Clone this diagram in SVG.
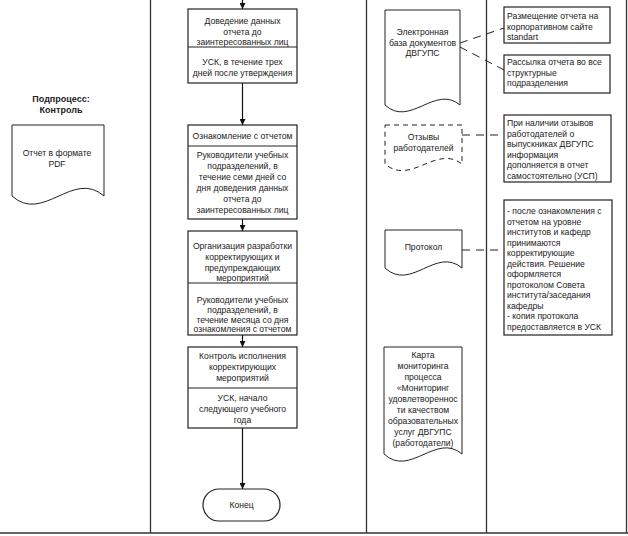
<svg xmlns="http://www.w3.org/2000/svg" width="628" height="536" viewBox="0 0 628 536">
<style>
text{font-family:"Liberation Sans",Arial,sans-serif;font-size:8.6px;fill:#222}
.c{text-anchor:middle}
.b{font-weight:bold;font-size:9px}
.box{fill:#fff;stroke:#222;stroke-width:1.2}
.lane{stroke:#333;stroke-width:1.3;fill:none}
.flow{stroke:#111;stroke-width:1.2;fill:none;marker-end:url(#ah)}
.dash{stroke:#222;stroke-width:1;fill:none;stroke-dasharray:8 6}
.doc{fill:#fff;stroke:#222;stroke-width:1}
</style>
<defs>
<marker id="ah" viewBox="0 0 10 10" refX="10" refY="5" markerWidth="6" markerHeight="6" orient="auto" markerUnits="userSpaceOnUse">
<path d="M0,0 L10,5 L0,10 z" fill="#111"/>
</marker>
</defs>
<g id="lanes">
<line class="lane" x1="150.5" y1="0" x2="150.5" y2="533"/>
<line class="lane" x1="366.5" y1="0" x2="366.5" y2="533"/>
<line class="lane" x1="486.5" y1="0" x2="486.5" y2="533"/>
<line class="lane" x1="626.5" y1="0" x2="626.5" y2="533"/>
<line class="lane" x1="0" y1="533" x2="628" y2="533"/>
</g>
<g id="connectors">
<line class="flow" x1="242.5" y1="0" x2="242.5" y2="9"/>
<line class="flow" x1="242.5" y1="83" x2="242.5" y2="125"/>
<line class="flow" x1="242.5" y1="219" x2="242.5" y2="231"/>
<line class="flow" x1="242.5" y1="335" x2="242.5" y2="347"/>
<line class="flow" x1="242.5" y1="428" x2="242.5" y2="489"/>
<line class="dash" x1="460" y1="43" x2="504" y2="28"/>
<line class="dash" x1="460" y1="47" x2="504" y2="70"/>
<line class="dash" x1="462" y1="135" x2="504" y2="135"/>
<line class="dash" x1="462" y1="250" x2="504" y2="250"/>
</g>
<g id="title">
<text class="c b" x="61" y="102">Подпроцесс:</text>
<text class="c b" x="61" y="113">Контроль</text>
</g>
<g id="doc-pdf">
<path class="doc" d="M12,125 H104 V196 C73,169 43,224 12,196 Z"/>
<text class="c" x="57" y="156">Отчет в формате</text>
<text class="c" x="57" y="167">PDF</text>
</g>
<g id="n1">
<rect class="box" x="188" y="9" width="109" height="74"/>
<line class="box" x1="188" y1="47" x2="297" y2="47"/>
<text class="c" x="242.5" y="24">Доведение данных</text>
<text class="c" x="242.5" y="34.5">отчета до</text>
<text class="c" x="242.5" y="45">заинтересованных лиц</text>
<text class="c" x="242.5" y="65">УСК, в течение трех</text>
<text class="c" x="242.5" y="75.5">дней после утверждения</text>
</g>
<g id="n2">
<rect class="box" x="188" y="125" width="109" height="94"/>
<line class="box" x1="188" y1="146" x2="297" y2="146"/>
<text class="c" x="242.5" y="138.5">Ознакомление с отчетом</text>
<text class="c" x="242.5" y="158">Руководители учебных</text>
<text class="c" x="242.5" y="169">подразделений, в</text>
<text class="c" x="242.5" y="180">течение семи дней со</text>
<text class="c" x="242.5" y="191">дня доведения данных</text>
<text class="c" x="242.5" y="202">отчета до</text>
<text class="c" x="242.5" y="213">заинтересованных лиц</text>
</g>
<g id="n3">
<rect class="box" x="188" y="231" width="109" height="104"/>
<line class="box" x1="188" y1="283" x2="297" y2="283"/>
<text class="c" x="242.5" y="249">Организация разработки</text>
<text class="c" x="242.5" y="260">корректирующих и</text>
<text class="c" x="242.5" y="270.5">предупреждающих</text>
<text class="c" x="242.5" y="281">мероприятий</text>
<text class="c" x="242.5" y="302.5">Руководители учебных</text>
<text class="c" x="242.5" y="313">подразделений, в</text>
<text class="c" x="242.5" y="323">течение месяца со дня</text>
<text class="c" x="242.5" y="332">ознакомления с отчетом</text>
</g>
<g id="n4">
<rect class="box" x="188" y="347" width="109" height="81"/>
<line class="box" x1="188" y1="388" x2="297" y2="388"/>
<text class="c" x="242.5" y="359">Контроль исполнения</text>
<text class="c" x="242.5" y="370">корректирующих</text>
<text class="c" x="242.5" y="381">мероприятий</text>
<text class="c" x="242.5" y="401">УСК, начало</text>
<text class="c" x="242.5" y="412">следующего учебного</text>
<text class="c" x="242.5" y="423">года</text>
</g>
<g id="end">
<rect class="box" x="203" y="489" width="77" height="32" rx="16"/>
<text class="c" x="241.5" y="508">Конец</text>
</g>
<g id="doc-edb">
<path class="doc" d="M385,10 H460 V105 C435,84 410,128 385,105 Z"/>
<text class="c" x="422.5" y="35">Электронная</text>
<text class="c" x="422.5" y="45.5">база документов</text>
<text class="c" x="422.5" y="56">ДВГУПС</text>
</g>
<g id="doc-otz">
<path class="doc" d="M385,125 H462 V164 C436,144 411,186 385,164 Z" stroke-dasharray="5 4"/>
<text class="c" x="423.5" y="140">Отзывы</text>
<text class="c" x="423.5" y="150.5">работодателей</text>
</g>
<g id="doc-prot">
<path class="doc" d="M385,230 H462 V268 C436,246 411,292 385,268 Z"/>
<text class="c" x="423.5" y="250">Протокол</text>
</g>
<g id="doc-karta">
<path class="doc" d="M384,347 H462 V454 C436,432 410,478 384,454 Z"/>
<text class="c" x="423" y="358">Карта</text>
<text class="c" x="423" y="369">мониторинга</text>
<text class="c" x="423" y="380">процесса</text>
<text class="c" x="423" y="391">«Мониторинг</text>
<text class="c" x="423" y="402">удовлетвореннос</text>
<text class="c" x="423" y="413">ти качеством</text>
<text class="c" x="423" y="424">образовательных</text>
<text class="c" x="423" y="435">услуг ДВГУПС</text>
<text class="c" x="423" y="446">(работодатели)</text>
</g>
<g id="box-a">
<rect class="box" x="504" y="7" width="106" height="36"/>
<text x="507" y="19">Размещение отчета на</text>
<text x="507" y="30">корпоративном сайте</text>
<text x="507" y="40">standart</text>
</g>
<g id="box-b">
<rect class="box" x="504" y="55" width="106" height="38"/>
<text x="507" y="65">Рассылка отчета во все</text>
<text x="507" y="75.5">структурные</text>
<text x="507" y="86">подразделения</text>
</g>
<g id="box-c">
<rect class="box" x="504" y="115" width="107" height="67"/>
<text x="507" y="126">При наличии отзывов</text>
<text x="507" y="136.5">работодателей о</text>
<text x="507" y="147">выпускниках ДВГУПС</text>
<text x="507" y="157.5">информация</text>
<text x="507" y="168">дополняется в отчет</text>
<text x="507" y="178.5">самостоятельно (УСП)</text>
</g>
<g id="box-d">
<rect class="box" x="504" y="200" width="108" height="135"/>
<text x="507" y="214">- после ознакомления с</text>
<text x="507" y="224.5">отчетом на уровне</text>
<text x="507" y="235">институтов и кафедр</text>
<text x="507" y="245.5">принимаются</text>
<text x="507" y="256">корректирующие</text>
<text x="507" y="266.5">действия. Решение</text>
<text x="507" y="277">оформляется</text>
<text x="507" y="287.5">протоколом Совета</text>
<text x="507" y="298">института/заседания</text>
<text x="507" y="308.5">кафедры</text>
<text x="507" y="319">- копия протокола</text>
<text x="507" y="329.5">предоставляется в УСК</text>
</g>
</svg>
